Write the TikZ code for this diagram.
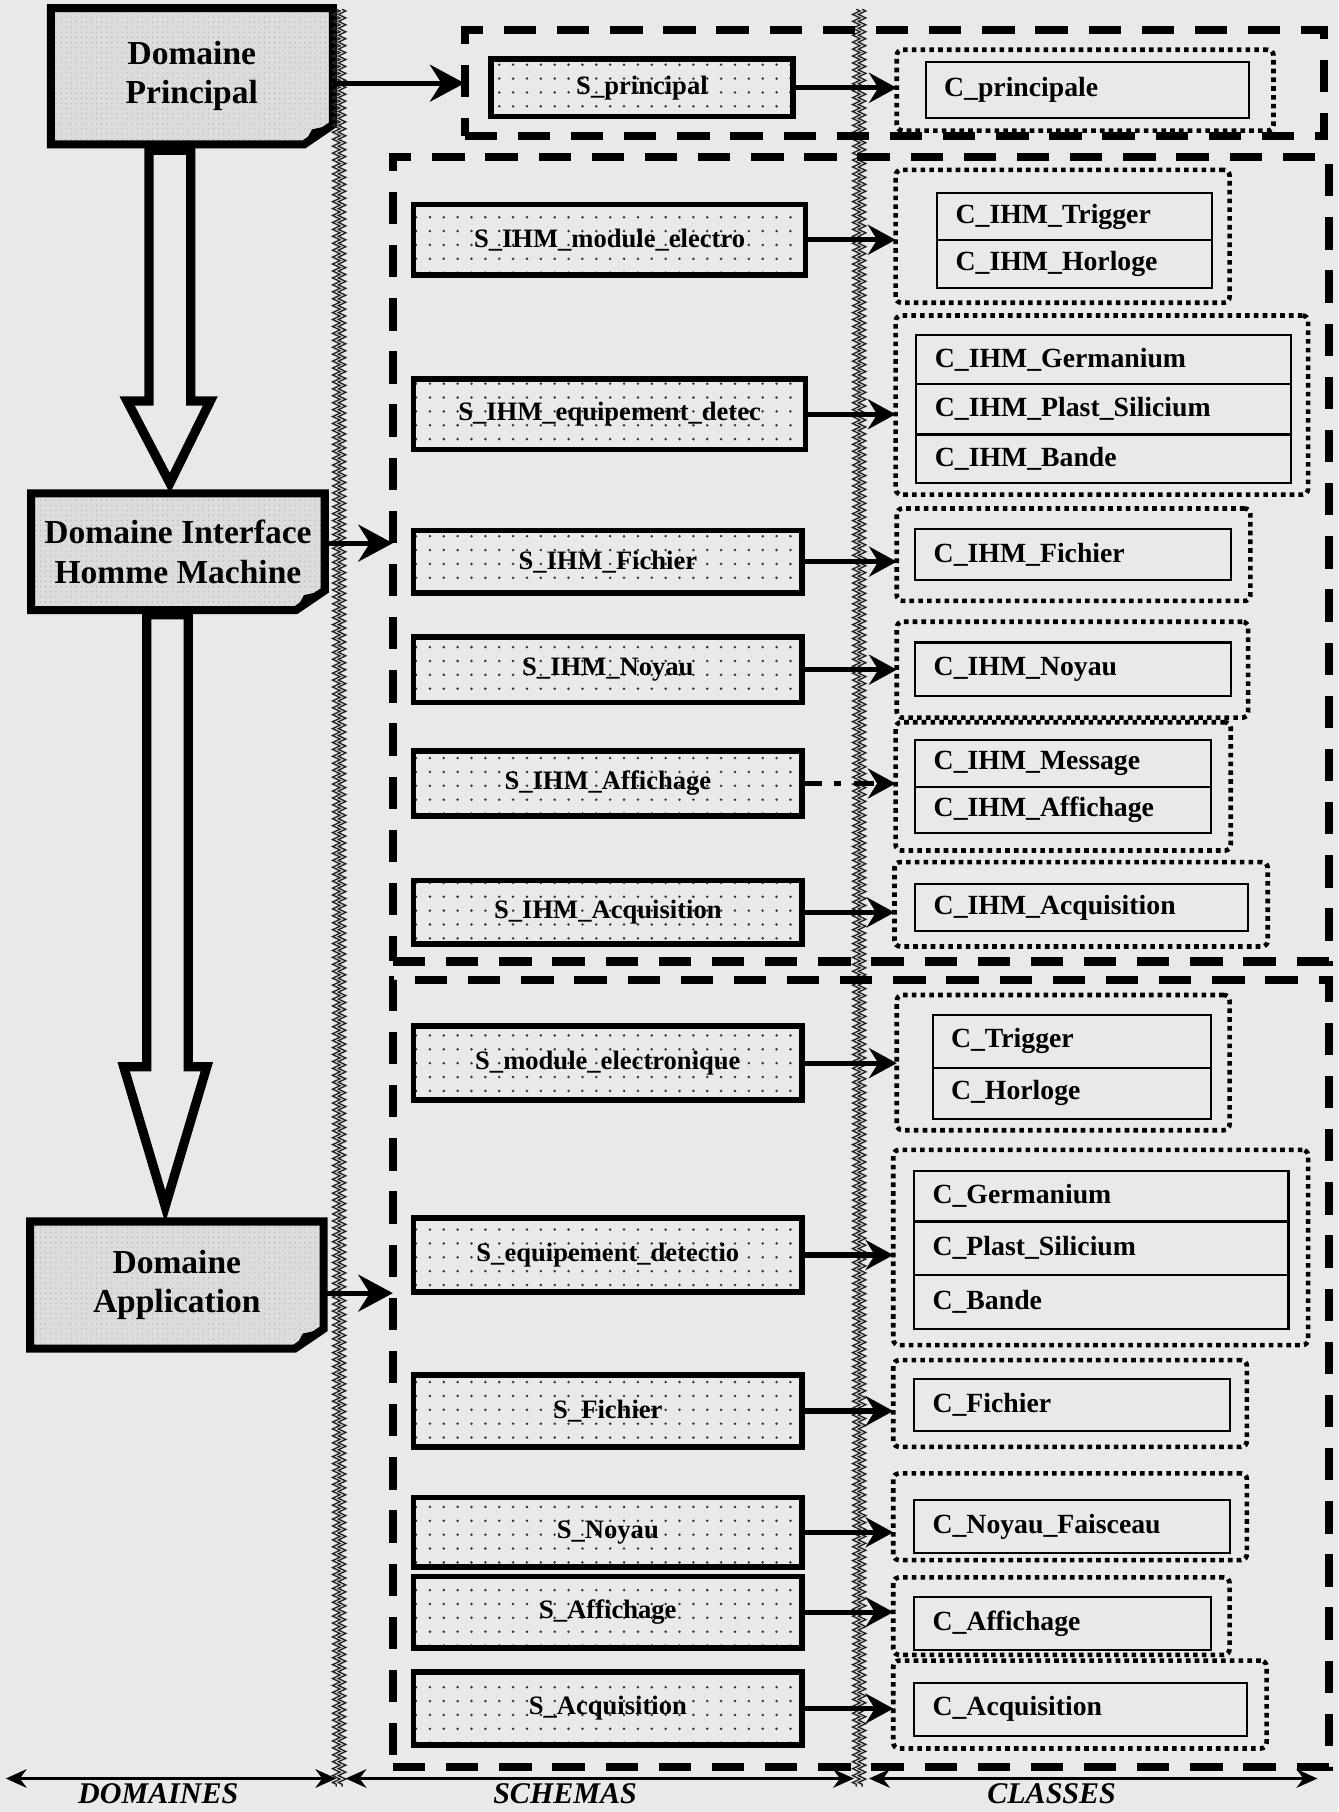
\documentclass[tikz,border=0pt]{standalone}
\usepackage{fontspec}
\setmainfont{Liberation Serif}
\usetikzlibrary{arrows.meta,patterns.meta,decorations.pathmorphing,calc}
\definecolor{bgc}{RGB}{233,233,233}
\definecolor{domc}{RGB}{220,220,220}
\pgfdeclarelayer{bg}
\pgfsetlayers{bg,main}
\tikzset{
 dom/.style={inner sep=0pt, outer sep=0pt, align=center, font=\fontsize{14.5}{17}\selectfont\bfseries},
 schema/.style={draw, line width=2.4pt, outer sep=0pt, inner sep=0pt, pattern={Dots[distance=6pt,radius=0.6pt]}, pattern color=black!80, font=\fontsize{11.5}{13}\selectfont\bfseries},
 grp/.style={draw, line width=2pt, dash pattern=on 2pt off 1.8pt, rounded corners=2.5pt, outer sep=0pt, inner sep=0pt},
 cls/.style={draw, line width=0.9pt, outer sep=0pt, inner xsep=8pt, inner ysep=0pt, align=left, font=\fontsize{12}{14}\selectfont\bfseries},
 cbox/.style={draw, line width=3.5pt, dash pattern=on 14pt off 9pt, outer sep=0pt, inner sep=0pt},
 darr/.style={line width=2.2pt, -{Stealth[length=15pt,width=16pt,inset=5pt]}},
 sarr/.style={line width=2.2pt, -{Stealth[length=12pt,width=13pt,inset=4pt]}},
 hollow/.style={line width=4pt, fill=bgc, line join=miter},
 sepline/.style={decorate, decoration={zigzag, segment length=3pt, amplitude=1.6pt}, line width=0.6pt, black!85},
 legarr/.style={line width=1.4pt, {Stealth[length=9pt,width=8pt]}-{Stealth[length=9pt,width=8pt]}},
 legtxt/.style={font=\fontsize{13}{14}\selectfont\bfseries\itshape, inner sep=0pt, anchor=north},
}
\newcommand\mydomshape[1]{%
 \path[fill=domc, postaction={pattern={Dots[distance=2.2pt,radius=0.3pt]}, pattern color=black!30}] (#1.north west) -- (#1.north east) -- ([yshift=8.5pt]#1.south east) -- ([xshift=-12.5pt]#1.south east) -- (#1.south west) -- cycle;
 \draw[line width=3.5pt, line join=miter] (#1.north west) -- (#1.north east) -- ([yshift=8.5pt]#1.south east) -- ([xshift=-12.5pt]#1.south east) -- (#1.south west) -- cycle;
 \fill[black] ([xshift=-12.5pt]#1.south east) -- ([yshift=8.5pt]#1.south east) -- ([xshift=-9pt,yshift=6.5pt]#1.south east) -- cycle;
}
\begin{document}
\begin{tikzpicture}[x=0.5pt,y=-0.5pt]
\useasboundingbox (0,0) rectangle (1158,1568);

% separators
\draw[sepline] (291,8) -- (291,1546);
\draw[sepline] (296,8) -- (296,1546);
\draw[sepline] (741,8) -- (741,1546);
\draw[sepline] (746,8) -- (746,1546);

% domain nodes
\node[dom, minimum width=122pt, minimum height=59pt] (dP) at (166,66) {Domaine\\Principal};
\node[dom, minimum width=127pt, minimum height=50.5pt] (dI) at (154,477.5) {Domaine Interface\\Homme Machine};
\node[dom, minimum width=127pt, minimum height=55pt] (dA) at (153,1112) {Domaine\\Application};

\begin{pgfonlayer}{bg}
 \fill[bgc] (0,0) rectangle (1158,1568);
 \mydomshape{dP}
 \mydomshape{dI}
 \mydomshape{dA}
\end{pgfonlayer}

% hollow arrows
\draw[hollow] ($(dP.south)+(-37,5)$) -- ($(dP.south)+(-1,5)$) -- ($(dI.north)+(11,-80)$) -- ($(dI.north)+(28,-80)$) -- ($(dI.north)+(-7,-9)$) -- ($(dI.north)+(-44,-80)$) -- ($(dI.north)+(-25,-80)$) -- cycle;
\draw[hollow] ($(dI.south)+(-27,4)$) -- ($(dI.south)+(9,4)$) -- ($(dA.north)+(10,-134)$) -- ($(dA.north)+(26,-134)$) -- ($(dA.north)+(-10,-13)$) -- ($(dA.north)+(-46,-134)$) -- ($(dA.north)+(-26,-134)$) -- cycle;

% containers
\node[cbox, minimum width=372pt, minimum height=46pt] (kP) at (774,72) {};
\node[cbox, minimum width=405pt, minimum height=348pt] (kI) at (745,484) {};
\node[cbox, minimum width=405pt, minimum height=340.5pt] (kA) at (745,1188.5) {};

% domain arrows
\coordinate (pa) at ([yshift=-3pt]dP.east);
\coordinate (pb) at ([yshift=3.75pt]dI.east);
\coordinate (pc) at ([yshift=-3.5pt]dA.east);
\draw[darr] (pa) -- (pa -| kP.west);
\draw[darr] (pb) -- (pb -| kI.west);
\draw[darr] (pc) -- (pc -| kA.west);

% schema nodes
\node[schema, minimum width=130.5pt, minimum height=25pt] (sP) at (555.5,76) {S\_principal};
\node[schema, minimum width=169.5pt, minimum height=30.5pt] (s1) at (527.5,207.5) {S\_IHM\_module\_electro};
\node[schema, minimum width=169.5pt, minimum height=30.5pt] (s2) at (527.5,358.5) {S\_IHM\_equipement\_detec};
\node[schema, minimum width=168pt, minimum height=27pt] (s3) at (526,486) {S\_IHM\_Fichier};
\node[schema, minimum width=168pt, minimum height=28.5pt] (s4) at (526,579.5) {S\_IHM\_Noyau};
\node[schema, minimum width=168pt, minimum height=28pt] (s5) at (526,678) {S\_IHM\_Affichage};
\node[schema, minimum width=168pt, minimum height=27.5pt] (s6) at (526,789.5) {S\_IHM\_Acquisition};
\node[schema, minimum width=168pt, minimum height=32pt] (s7) at (526,920) {S\_module\_electronique};
\node[schema, minimum width=168pt, minimum height=32pt] (s8) at (526,1086) {S\_equipement\_detectio};
\node[schema, minimum width=168pt, minimum height=31pt] (s9) at (526,1221) {S\_Fichier};
\node[schema, minimum width=168pt, minimum height=30pt] (s10) at (526,1326) {S\_Noyau};
\node[schema, minimum width=168pt, minimum height=31pt] (s11) at (526,1395) {S\_Affichage};
\node[schema, minimum width=168pt, minimum height=31.5pt] (s12) at (526,1478.5) {S\_Acquisition};

% class groups
\node[grp, minimum width=163pt, minimum height=35pt] (gP) at (939,78) {};
\node[grp, minimum width=144.5pt, minimum height=57.5pt] (g1) at (919.5,204.5) {};
\node[grp, minimum width=178.5pt, minimum height=77.5pt] (g2) at (953.5,350.5) {};
\node[grp, minimum width=153pt, minimum height=40pt] (g3) at (929,480) {};
\node[grp, minimum width=152pt, minimum height=41.5pt] (g4) at (928,579.5) {};
\node[grp, minimum width=145pt, minimum height=55.5pt] (g5) at (920,680.5) {};
\node[grp, minimum width=161.5pt, minimum height=36.5pt] (g6) at (935.5,782.5) {};
\node[grp, minimum width=144pt, minimum height=58.5pt] (g7) at (920,919.5) {};
\node[grp, minimum width=179.5pt, minimum height=84.5pt] (g8) at (952.5,1079.5) {};
\node[grp, minimum width=153pt, minimum height=37.5pt] (g9) at (926,1214.5) {};
\node[grp, minimum width=153pt, minimum height=37.5pt] (g10) at (926,1312.5) {};
\node[grp, minimum width=145.5pt, minimum height=33.5pt] (g11) at (918.5,1398.5) {};
\node[grp, minimum width=161.5pt, minimum height=38pt] (g12) at (934.5,1475) {};

% classes
\node[cls, text width=124pt, minimum height=24pt] (cP) at (941,78) {C\_principale};
\node[cls, text width=103pt, minimum height=20.5pt] (c1a) at (930,187.5) {C\_IHM\_Trigger};
\node[cls, text width=103pt, minimum height=20.5pt] (c1b) at (930,228.5) {C\_IHM\_Horloge};
\node[cls, text width=146pt, minimum height=21pt] (c2a) at (955,311) {C\_IHM\_Germanium};
\node[cls, text width=146pt, minimum height=22pt] (c2b) at (955,354) {C\_IHM\_Plast\_Silicium};
\node[cls, text width=146pt, minimum height=21pt] (c2c) at (955,397) {C\_IHM\_Bande};
\node[cls, text width=120.5pt, minimum height=22pt] (c3) at (928.5,480) {C\_IHM\_Fichier};
\node[cls, text width=120.5pt, minimum height=23pt] (c4) at (928.5,579) {C\_IHM\_Noyau};
\node[cls, text width=112pt, minimum height=20.5pt] (c5a) at (920,660.5) {C\_IHM\_Message};
\node[cls, text width=112pt, minimum height=20pt] (c5b) at (920,701) {C\_IHM\_Affichage};
\node[cls, text width=128pt, minimum height=20.5pt] (c6) at (936,785.5) {C\_IHM\_Acquisition};
\node[cls, text width=104.5pt, minimum height=23pt] (c7a) at (927.5,901) {C\_Trigger};
\node[cls, text width=104.5pt, minimum height=22pt] (c7b) at (927.5,946) {C\_Horloge};
\node[cls, text width=146pt, minimum height=22pt] (c8a) at (953,1035) {C\_Germanium};
\node[cls, text width=146pt, minimum height=23pt] (c8b) at (953,1080) {C\_Plast\_Silicium};
\node[cls, text width=146pt, minimum height=23.5pt] (c8c) at (953,1126.5) {C\_Bande};
\node[cls, text width=120.5pt, minimum height=22.5pt] (c9) at (927.5,1215.5) {C\_Fichier};
\node[cls, text width=120.5pt, minimum height=23pt] (c10) at (927.5,1321) {C\_Noyau\_Faisceau};
\node[cls, text width=112.5pt, minimum height=23pt] (c11) at (919.5,1405) {C\_Affichage};
\node[cls, text width=128pt, minimum height=23pt] (c12) at (935,1479) {C\_Acquisition};

% schema -> class arrows
\draw[sarr] (sP.east) -- (sP.east -| gP.west);
\draw[sarr] (s1.east) -- (s1.east -| g1.west);
\draw[sarr] (s2.east) -- (s2.east -| g2.west);
\draw[sarr] (s3.east) -- (s3.east -| g3.west);
\draw[sarr] (s4.east) -- (s4.east -| g4.west);
\draw[sarr, dash pattern=on 8.5pt off 5.5pt on 3pt off 5.5pt] (s5.east) -- (s5.east -| g5.west);
\draw[sarr] (s6.east) -- (s6.east -| g6.west);
\draw[sarr] (s7.east) -- (s7.east -| g7.west);
\draw[sarr] (s8.east) -- (s8.east -| g8.west);
\draw[sarr] (s9.east) -- (s9.east -| g9.west);
\draw[sarr] (s10.east) -- (s10.east -| g10.west);
\draw[sarr] (s11.east) -- (s11.east -| g11.west);
\draw[sarr] (s12.east) -- (s12.east -| g12.west);

% legend
\coordinate (l1a) at (5,1539);
\coordinate (l1b) at (291,1539);
\coordinate (l2a) at (299,1539);
\coordinate (l2b) at (739,1539);
\coordinate (l3a) at (752,1539);
\coordinate (l3b) at (1140,1539);
\draw[legarr] (l1a) -- (l1b);
\draw[legarr] (l2a) -- (l2b);
\draw[legarr] (l3a) -- (l3b);
\node[legtxt] (tD) at (137,1543) {DOMAINES};
\node[legtxt] (tS) at (489,1543) {SCHEMAS};
\node[legtxt] (tC) at (910,1543) {CLASSES};
\end{tikzpicture}
\end{document}
